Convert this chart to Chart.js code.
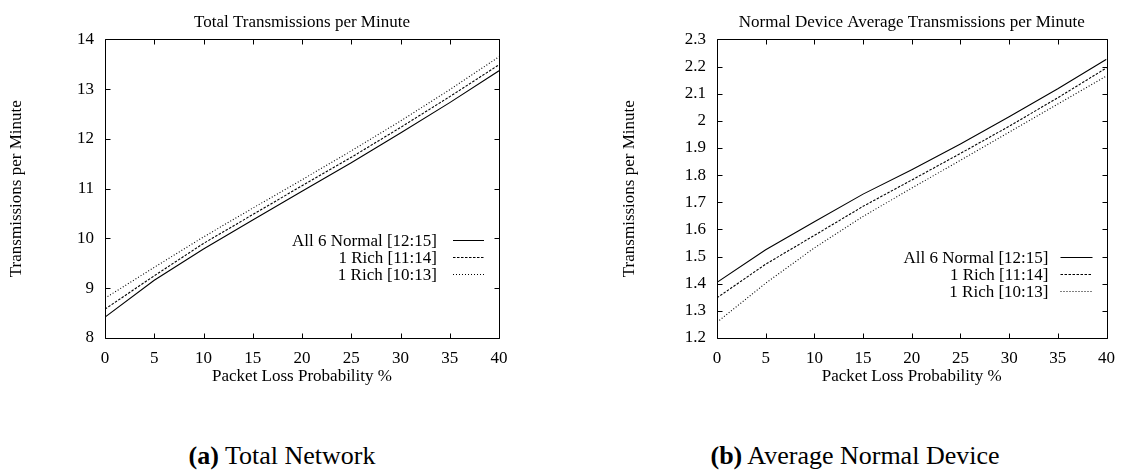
<!DOCTYPE html>
<html>
<head>
<meta charset="utf-8">
<script src="https://cdn.jsdelivr.net/npm/chart.js@4.4.1/dist/chart.umd.min.js"></script>
<style>
  body { margin: 0; background: #fff; width: 1125px; height: 473px; position: relative; overflow: hidden; font-family: "Liberation Serif", serif; }
  .box { position: absolute; top: 0; height: 400px; }
  #boxA { left: 0; width: 562px; }
  #boxB { left: 562px; width: 563px; }
  .cap { position: absolute; top: 443px; font-size: 26px; line-height: 26px; white-space: nowrap; transform: translateX(-50%); color: #000; }
</style>
</head>
<body>
<div class="box" id="boxA"><canvas id="chartA"></canvas></div>
<div class="box" id="boxB"><canvas id="chartB"></canvas></div>
<div class="cap" style="left:282px"><b>(a)</b> Total Network</div>
<div class="cap" style="left:855px"><b>(b)</b> Average Normal Device</div>
<script>
// packet loss probability (%) on the x axis
const lossPct = [0, 5, 10, 15, 20, 25, 30, 35, 40];
const seriesNames = ["All 6 Normal [12:15]", "1 Rich [11:14]", "1 Rich [10:13]"];

// (a) total transmissions per minute
const totalNormal = [8.42, 9.16, 9.79, 10.37, 10.95, 11.52, 12.12, 12.73, 13.37];
const totalRich11 = [8.58, 9.25, 9.9, 10.48, 11.06, 11.63, 12.23, 12.85, 13.49];
const totalRich10 = [8.8, 9.42, 10.03, 10.61, 11.18, 11.76, 12.36, 12.99, 13.65];

// (b) normal device average transmissions per minute
const avgNormal = [1.405, 1.525, 1.628, 1.73, 1.82, 1.915, 2.015, 2.118, 2.227];
const avgRich11 = [1.348, 1.472, 1.578, 1.685, 1.782, 1.88, 1.98, 2.085, 2.195];
const avgRich10 = [1.258, 1.402, 1.532, 1.648, 1.752, 1.855, 1.958, 2.062, 2.165];

// tick labels
const xTickVals = [0, 5, 10, 15, 20, 25, 30, 35, 40];
const yTicksTotal = [8, 9, 10, 11, 12, 13, 14];
const yTicksAvg = [1.2, 1.3, 1.4, 1.5, 1.6, 1.7, 1.8, 1.9, 2.0, 2.1, 2.2, 2.3];

const dashes = [[], [2.5, 1.5], [1, 2]];
const FONT = '"Liberation Serif", "Times New Roman", serif';

Chart.defaults.font.family = FONT;
Chart.defaults.font.size = 17;
Chart.defaults.color = "#000";

// gnuplot style: closed frame, inward ticks on all sides, legend with sample on the right
const framePlugin = {
  id: "frame",
  afterDatasetsDraw(chart, args, opts) {
    const { ctx, chartArea: a, scales } = chart;
    const L = Math.round(a.left) + 0.5, R = Math.round(a.right) + 0.5;
    const T = Math.round(a.top) + 0.5, B = Math.round(a.bottom) + 0.5;
    ctx.save();
    ctx.strokeStyle = "#000";
    ctx.lineWidth = 1;
    ctx.setLineDash([]);
    ctx.beginPath();
    ctx.rect(L, T, R - L, B - T);
    scales.x.ticks.forEach((t) => {
      const px = Math.round(scales.x.getPixelForValue(t.value)) + 0.5;
      ctx.moveTo(px, B); ctx.lineTo(px, B - 5);
      ctx.moveTo(px, T); ctx.lineTo(px, T + 5);
    });
    scales.y.ticks.forEach((t) => {
      const py = Math.round(scales.y.getPixelForValue(t.value)) + 0.5;
      ctx.moveTo(L, py); ctx.lineTo(L + 5, py);
      ctx.moveTo(R, py); ctx.lineTo(R - 5, py);
    });
    ctx.stroke();

    // legend
    ctx.font = "17px " + FONT;
    ctx.fillStyle = "#000";
    ctx.textAlign = "right";
    ctx.textBaseline = "middle";
    chart.data.datasets.forEach((ds, i) => {
      const y = Math.round(a.top + opts.top + i * opts.rowH) + 0.5;
      ctx.fillText(ds.label, a.right - opts.textRight, y + 1);
      ctx.setLineDash(ds.borderDash || []);
      ctx.beginPath();
      ctx.moveTo(a.right - opts.lineStart, y);
      ctx.lineTo(a.right - opts.lineEnd, y);
      ctx.stroke();
    });
    ctx.restore();
  },
};

function makeChart(id, series, yTicks, cfg) {
  return new Chart(document.getElementById(id), {
    type: "line",
    data: {
      datasets: series.map((vals, i) => ({
        label: seriesNames[i],
        data: lossPct.map((x, j) => ({ x: x, y: vals[j] })),
        borderColor: "#000",
        backgroundColor: "#000",
        borderWidth: 1.1,
        borderDash: dashes[i],
        pointRadius: 0,
        tension: 0,
        fill: false,
      })),
    },
    options: {
      responsive: true,
      maintainAspectRatio: false,
      animation: false,
      layout: { padding: { left: 0, right: cfg.padRight, top: 0, bottom: 0 } },
      plugins: {
        legend: { display: false },
        tooltip: { enabled: false },
        title: {
          display: true,
          text: cfg.title,
          fullSize: false,
          color: "#000",
          font: { size: 17, weight: "normal" },
          padding: { top: 12, bottom: 7 },
        },
        frame: cfg.legend,
      },
      scales: {
        x: {
          type: "linear",
          min: 0,
          max: 40,
          afterBuildTicks: (s) => { s.ticks = xTickVals.map((v) => ({ value: v })); },
          afterFit: (s) => { s.height = 62; },
          grid: { display: false, drawTicks: false },
          border: { display: false },
          ticks: { padding: 10, maxRotation: 0, color: "#000" },
          title: { display: true, text: "Packet Loss Probability %", color: "#000", padding: { top: 0, bottom: 13 } },
        },
        y: {
          type: "linear",
          min: yTicks[0],
          max: yTicks[yTicks.length - 1],
          afterBuildTicks: (s) => { s.ticks = yTicks.map((v) => ({ value: v })); },
          afterFit: (s) => { s.width = cfg.yWidth; },
          grid: { display: false, drawTicks: false },
          border: { display: false },
          ticks: { padding: 11, color: "#000", callback: (v) => String(+v.toFixed(1)) },
          title: { display: true, text: "Transmissions per Minute", color: "#000", padding: { top: cfg.yTitlePad, bottom: 0 } },
        },
      },
    },
    plugins: [framePlugin],
  });
}

makeChart("chartA", [totalNormal, totalRich11, totalRich10], yTicksTotal, {
  title: "Total Transmissions per Minute",
  yWidth: 105,
  padRight: 63,
  yTitlePad: 6.5,
  legend: { top: 200.5, rowH: 17.2, textRight: 62, lineStart: 46, lineEnd: 15 },
});

makeChart("chartB", [avgNormal, avgRich11, avgRich10], yTicksAvg, {
  title: "Normal Device Average Transmissions per Minute",
  yWidth: 155,
  padRight: 14,
  yTitlePad: 57.8,
  legend: { top: 217.5, rowH: 17, textRight: 58, lineStart: 46, lineEnd: 14 },
});
</script>
</body>
</html>
